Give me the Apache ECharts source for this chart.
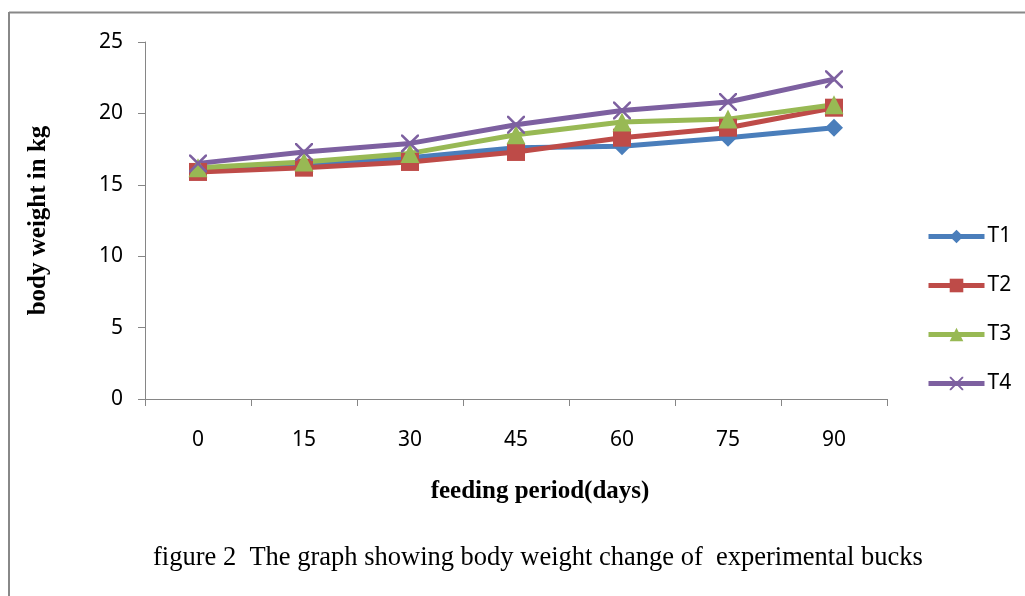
<!DOCTYPE html>
<html>
<head>
<meta charset="utf-8">
<script src="https://cdn.jsdelivr.net/npm/echarts@6/dist/echarts.min.js"></script>
<style>
  html, body { margin: 0; padding: 0; background: #fff; }
  #chart { width: 1025px; height: 596px; }
</style>
</head>
<body>
<div id="chart"></div>
<script>
var days = ['0', '15', '30', '45', '60', '75', '90'];
var t1 = [16.0, 16.3, 16.9, 17.6, 17.7, 18.3, 19.0];
var t2 = [15.9, 16.2, 16.6, 17.3, 18.3, 19.0, 20.4];
var t3 = [16.2, 16.6, 17.2, 18.5, 19.4, 19.6, 20.6];
var t4 = [16.5, 17.3, 17.9, 19.2, 20.2, 20.8, 22.4];

var crossPath = 'path://M0,0 L2,0 L10,8 L18,0 L20,0 L20,2 L12,10 L20,18 L20,20 L18,20 L10,12 L2,20 L0,20 L0,18 L8,10 L0,2 Z';
var tickFont = 'Noto Sans, Open Sans, sans-serif';

function mkSeries(name, data, color, symbol, size) {
    return {
        name: name,
        type: 'line',
        data: data,
        symbol: symbol,
        symbolSize: size,
        lineStyle: { color: color, width: 5 },
        itemStyle: { color: color },
        emphasis: { disabled: true }
    };
}

var chart = echarts.init(document.getElementById('chart'));
var option = {
    animation: false,
    grid: { left: 145, top: 42, right: 138, bottom: 197 },
    legend: {
        orient: 'vertical',
        left: 921,
        top: 221,
        itemWidth: 56,
        itemHeight: 17,
        itemGap: 28,
        lineStyle: { width: 5 },
        textStyle: { fontSize: 21, color: '#000', fontFamily: tickFont, padding: [0, 0, 0, -2] },
        data: ['T1', 'T2', 'T3', 'T4']
    },
    xAxis: {
        type: 'category',
        data: days,
        name: 'feeding period(days)',
        nameLocation: 'middle',
        nameGap: 80,
        nameTextStyle: { fontFamily: 'Liberation Serif', fontWeight: 'bold', fontSize: 25, color: '#000', padding: [0, 0, 0, 48] },
        axisLine: { lineStyle: { color: '#868686', width: 1 } },
        axisTick: { show: true, length: 7, lineStyle: { color: '#868686' } },
        axisLabel: { fontSize: 21, color: '#000', margin: 31, fontFamily: tickFont }
    },
    yAxis: {
        type: 'value',
        min: 0,
        max: 25,
        interval: 5,
        name: 'body weight in kg',
        nameLocation: 'middle',
        nameGap: 94,
        nameRotate: 90,
        nameTextStyle: { fontFamily: 'Liberation Serif', fontWeight: 'bold', fontSize: 25, color: '#000' },
        axisLine: { show: true, lineStyle: { color: '#868686', width: 1 } },
        axisTick: { show: true, length: 7, lineStyle: { color: '#868686' } },
        splitLine: { show: false },
        axisLabel: { fontSize: 21, color: '#000', margin: 22, fontFamily: tickFont }
    },
    graphic: [
        { type: 'line', shape: { x1: 9, y1: 12.5, x2: 1030, y2: 12.5 }, style: { stroke: '#888', lineWidth: 2 } },
        { type: 'line', shape: { x1: 9, y1: 12, x2: 9, y2: 600 }, style: { stroke: '#888', lineWidth: 2 } },
        {
            type: 'text', left: 153, top: 545,
            style: {
                text: 'figure 2  The graph showing body weight change of  experimental bucks',
                font: '26.5px "Liberation Serif"', fill: '#000'
            }
        }
    ],
    series: [
        mkSeries('T1', t1, '#4A7EBB', 'diamond', 18),
        mkSeries('T2', t2, '#BE4B48', 'rect', 18),
        mkSeries('T3', t3, '#98B954', 'triangle', 19),
        mkSeries('T4', t4, '#7D60A0', crossPath, 18)
    ]
};
chart.setOption(option);
</script>
</body>
</html>
